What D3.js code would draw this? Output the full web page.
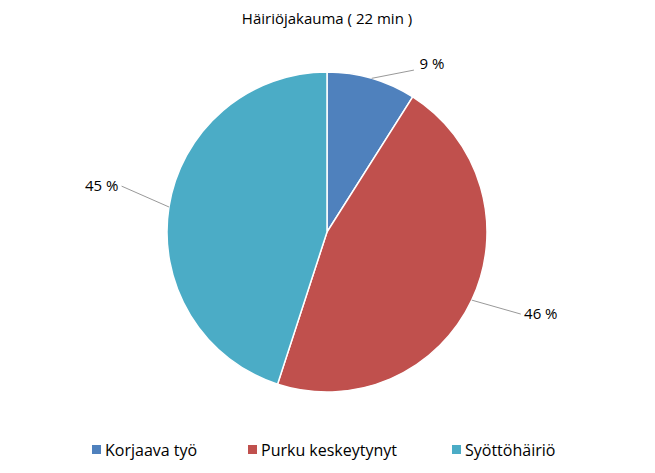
<!DOCTYPE html>
<html><head><meta charset="utf-8">
<script src="https://cdn.jsdelivr.net/npm/d3@7"></script>
<style>body{margin:0;background:#fff}text{font-family:"Open Sans","Liberation Sans",sans-serif}</style>
</head><body>
<svg id="c" width="655" height="473"></svg>
<script>
const title = "Häiriöjakauma ( 22 min )";
const categories = ["Korjaava työ","Purku keskeytynyt","Syöttöhäiriö"];
const values = [9,46,45];
const colors = ["#4F81BD","#C0504D","#4BACC6"];
// label placement (angle in degrees from top, radius px) — layout only
const labelPos = [[32,198],[111,229],[281.5,230]];

const svg = d3.select("#c");
const cx=327, cy=232, R=160;
svg.append("text").attr("x",cx).attr("y",24).attr("text-anchor","middle").attr("font-size",15).attr("fill","#000").text(title);
const g = svg.append("g").attr("transform",`translate(${cx},${cy})`);
const pie = d3.pie().sort(null).value(d=>d)(values);
const arc = d3.arc().innerRadius(0).outerRadius(R);
g.selectAll("path").data(pie).join("path").attr("d",arc).attr("fill",(d,i)=>colors[i]).attr("stroke","#fff").attr("stroke-width",1.5);
const pt=(a,r)=>[Math.sin(a)*r,-Math.cos(a)*r];
pie.forEach((d,i)=>{
  const mid=(d.startAngle+d.endAngle)/2;
  const [la,lr]=labelPos[i]; const a=la*Math.PI/180;
  const p0=pt(mid,R), p1=pt(a,lr);
  const left=p1[0]<0;
  const lx=p1[0]+(left?20:-20), ly=p1[1]+(i==0?4:0);
  g.append("line").attr("x1",p0[0]).attr("y1",p0[1]).attr("x2",i==0?p1[0]-18:lx).attr("y2",i==0?p1[1]+6:ly).attr("stroke","#999").attr("stroke-width",1);
  g.append("text").attr("x",p1[0]).attr("y",p1[1]).attr("dy","0.35em").attr("text-anchor","middle").attr("font-size",15).text(Math.round(values[i]/d3.sum(values)*100)+" %");
});
const legX=[92,248,452];
categories.forEach((c,i)=>{
  svg.append("rect").attr("x",legX[i]).attr("y",445).attr("width",9).attr("height",9).attr("fill",colors[i]);
  svg.append("text").attr("x",legX[i]+13).attr("y",450).attr("dy","0.35em").attr("font-size",16).text(c);
});
</script>
</body></html>
